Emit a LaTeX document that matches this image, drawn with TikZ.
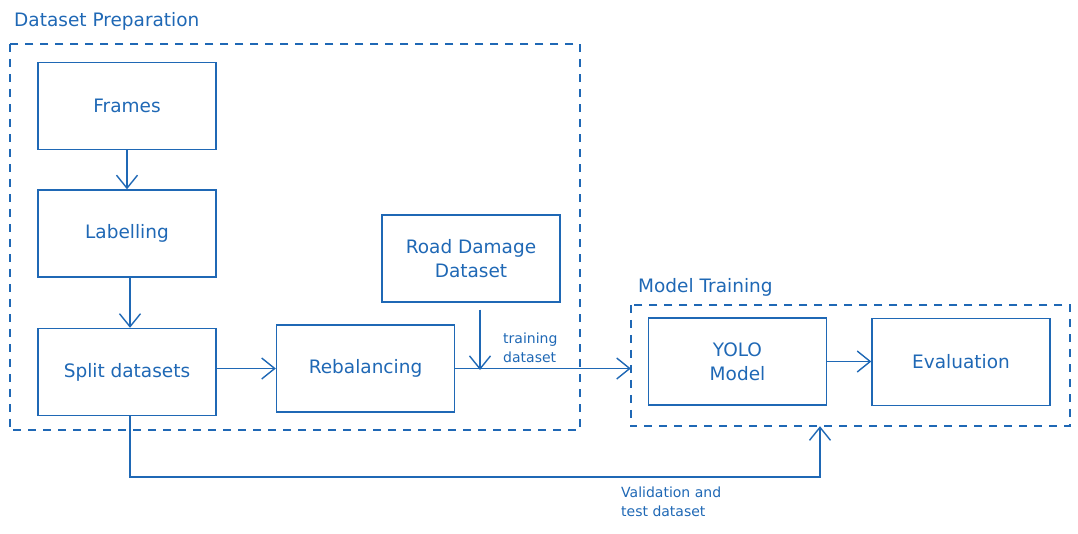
\documentclass[tikz,border=0pt]{standalone}
\usepackage{fontspec}
\setmainfont{DejaVu Sans}
\usetikzlibrary{arrows.meta,calc}
\definecolor{sk}{HTML}{1F68B5}
\begin{document}
\begin{tikzpicture}[x=1pt,y=-1pt,
  every node/.style={text=sk},
  boxnode/.style={draw=sk,line width=1.4pt,minimum width=178pt,minimum height=87pt,font=\fontsize{18.5}{24}\selectfont,align=center,inner sep=0pt},
  groupbox/.style={draw=sk,line width=1.5pt,dash pattern=on 8pt off 7pt},
  conn/.style={draw=sk,line width=1.4pt,-{Straight Barb[length=13pt,width=21pt,line width=1.4pt]}},
  titletext/.style={font=\fontsize{18.5}{22}\selectfont,anchor=west,inner sep=0pt},
  smalltext/.style={font=\fontsize{14}{19}\selectfont,align=left,anchor=west,inner sep=0pt}]
\useasboundingbox (0,0) rectangle (1078,533);
% groups
\node[inner sep=0pt,minimum width=570pt,minimum height=386pt] (prep) at (295,237) {};
\draw[groupbox] (prep.north west) rectangle (prep.south east);
\node[inner sep=0pt,minimum width=439pt,minimum height=121pt] (train) at (850.5,365.5) {};
\draw[groupbox] (train.north west) rectangle (train.south east);
\node[titletext] (preptitle) at (14,21) {Dataset Preparation};
\node[titletext] (traintitle) at (638,287) {Model Training};
% boxes
\node[boxnode] (frames) at (127,106) {Frames};
\node[boxnode] (label) at (127,233.5) {Labelling};
\node[boxnode] (split) at (127,372) {Split datasets};
\node[boxnode] (rebal) at (365.5,368.5) {Rebalancing};
\node[boxnode] (road) at (471,258.5) {Road Damage\\Dataset};
\node[boxnode] (yolo) at (737.5,361.5) {YOLO\\Model};
\node[boxnode] (eval) at (961,362) {Evaluation};
% connectors
\draw[conn] (frames.south) -- (label.north);
\draw[conn] ([xshift=3pt]label.south) -- ([xshift=3pt]split.north);
\draw[conn] (split.east |- rebal.east) -- (rebal.west);
\draw[conn] (rebal.east) -- (rebal.east -| train.west);
\coordinate (join) at (480,370);
\draw[conn] ([yshift=-7pt]road.south -| join) -- (join);
\draw[conn] (yolo.east) -- (yolo.east -| eval.west);
\coordinate (bend1) at (130,477);
\coordinate (bend2) at (820,477);
\draw[conn] (split.south -| bend1) -- (bend1) -- (bend2) -- (bend2 |- train.south);
% labels
\node[smalltext] (trainlbl) at (503,348) {training\\dataset};
\node[smalltext] (vallbl) at (621,502) {Validation and\\test dataset};
\end{tikzpicture}
\end{document}
